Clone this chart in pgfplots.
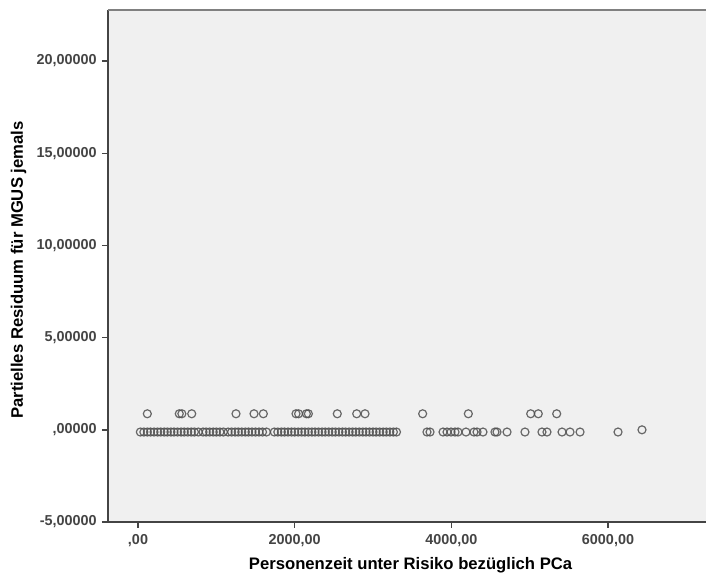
\documentclass[border=0pt]{standalone}
\usepackage{pgfplots}
\pgfplotsset{compat=1.18}
\usepackage{fontspec}
\setmainfont{Liberation Sans}
\definecolor{bg}{HTML}{F0F0F0}
\definecolor{tk}{HTML}{444444}
\definecolor{mk}{HTML}{505050}
\begin{document}
\begin{tikzpicture}
\begin{axis}[
  scale only axis,
  width=448.5pt, height=384pt,
  xmin=-383, xmax=7251,
  ymin=-5, ymax=22.77,
  axis background/.style={fill=bg},
  axis x line*=bottom, axis y line*=left,
  axis line style={tk, line width=1.1pt},
  tick align=outside,
  major tick length=4.5pt,
  tick style={tk, line width=1.1pt},
  xtick={0,2000,4000,6000},
  xticklabels={{,00},{2000,00},{4000,00},{6000,00}},
  ytick={-5,0,5,10,15,20},
  yticklabels={{-5,00000},{,00000},{5,00000},{10,00000},{15,00000},{20,00000}},
  tick label style={font=\fontsize{10.8pt}{12pt}\selectfont\bfseries, text=tk},
  xticklabel style={yshift=-1pt},
  yticklabel style={xshift=-0.5pt},
  every axis x label/.style={at={(rel axis cs:0.506,0)}, yshift=-32.5pt, anchor=center},
  every axis y label/.style={at={(rel axis cs:0,0.5)}, xshift=-67pt, yshift=-3pt, rotate=90, anchor=center},
  xlabel={Personenzeit unter Risiko bezüglich PCa},
  ylabel={Partielles Residuum für MGUS jemals},
  label style={font=\fontsize{12.5pt}{14pt}\selectfont\bfseries},
  clip=false,
]
\coordinate (bl) at (rel axis cs:0,0);
\coordinate (tr) at (rel axis cs:1,1);
\draw[color=gray, line width=1.5pt] (rel axis cs:0,1) -- (rel axis cs:1,1);
% upper row
\addplot[only marks, mark=o, mark size=3pt, mark options={draw=mk, line width=0.9pt, draw opacity=0.85}] coordinates {
(119,0.87) (527,0.87) (560,0.87) (686,0.87) (1251,0.87) (1481,0.87) (1600,0.87)
(2017,0.87) (2050,0.87) (2150,0.87) (2175,0.87) (2544,0.87) (2792,0.87) (2898,0.87)
(3634,0.87) (4217,0.87) (5013,0.87) (5110,0.87) (5345,0.87)
};
% lower row
\addplot[only marks, mark=o, mark size=3pt, mark options={draw=mk, line width=0.9pt, draw opacity=0.85}] coordinates {
(30,-0.12) (75,-0.12) (120,-0.12) (160,-0.12) (205,-0.12) (250,-0.12) (290,-0.12) (335,-0.12)
(375,-0.12) (420,-0.12) (460,-0.12) (505,-0.12) (550,-0.12) (590,-0.12) (635,-0.12) (680,-0.12)
(720,-0.12) (770,-0.12) (830,-0.12) (870,-0.12) (915,-0.12) (960,-0.12) (1000,-0.12) (1045,-0.12)
(1090,-0.12) (1150,-0.12) (1195,-0.12) (1240,-0.12) (1280,-0.12) (1325,-0.12) (1370,-0.12) (1410,-0.12)
(1455,-0.12) (1500,-0.12) (1545,-0.12) (1590,-0.12) (1640,-0.12)
(1740,-0.12) (1785,-0.12) (1830,-0.12) (1870,-0.12) (1915,-0.12) (1960,-0.12) (2000,-0.12) (2045,-0.12)
(2090,-0.12) (2130,-0.12) (2175,-0.12) (2220,-0.12) (2260,-0.12) (2305,-0.12) (2350,-0.12) (2390,-0.12)
(2435,-0.12) (2480,-0.12) (2520,-0.12) (2565,-0.12) (2610,-0.12) (2650,-0.12) (2695,-0.12) (2740,-0.12)
(2780,-0.12) (2825,-0.12) (2870,-0.12) (2910,-0.12) (2955,-0.12) (3000,-0.12) (3040,-0.12) (3085,-0.12)
(3130,-0.12) (3170,-0.12) (3215,-0.12) (3260,-0.12) (3300,-0.12)
(3689,-0.12) (3728,-0.12) (3894,-0.12) (3945,-0.12) (3996,-0.12) (4047,-0.12) (4085,-0.12)
(4187,-0.12) (4289,-0.12) (4328,-0.12) (4404,-0.12) (4557,-0.12) (4583,-0.12) (4711,-0.12)
(4940,-0.12) (5157,-0.12) (5221,-0.12) (5413,-0.12) (5515,-0.12) (5643,-0.12) (6128,-0.12)
(6434,0.0)
};
\end{axis}
\pgfresetboundingbox
\path ([shift={(-81pt,-40.5pt)}]bl) rectangle ([shift={(0pt,7.5pt)}]tr);
\end{tikzpicture}
\end{document}
